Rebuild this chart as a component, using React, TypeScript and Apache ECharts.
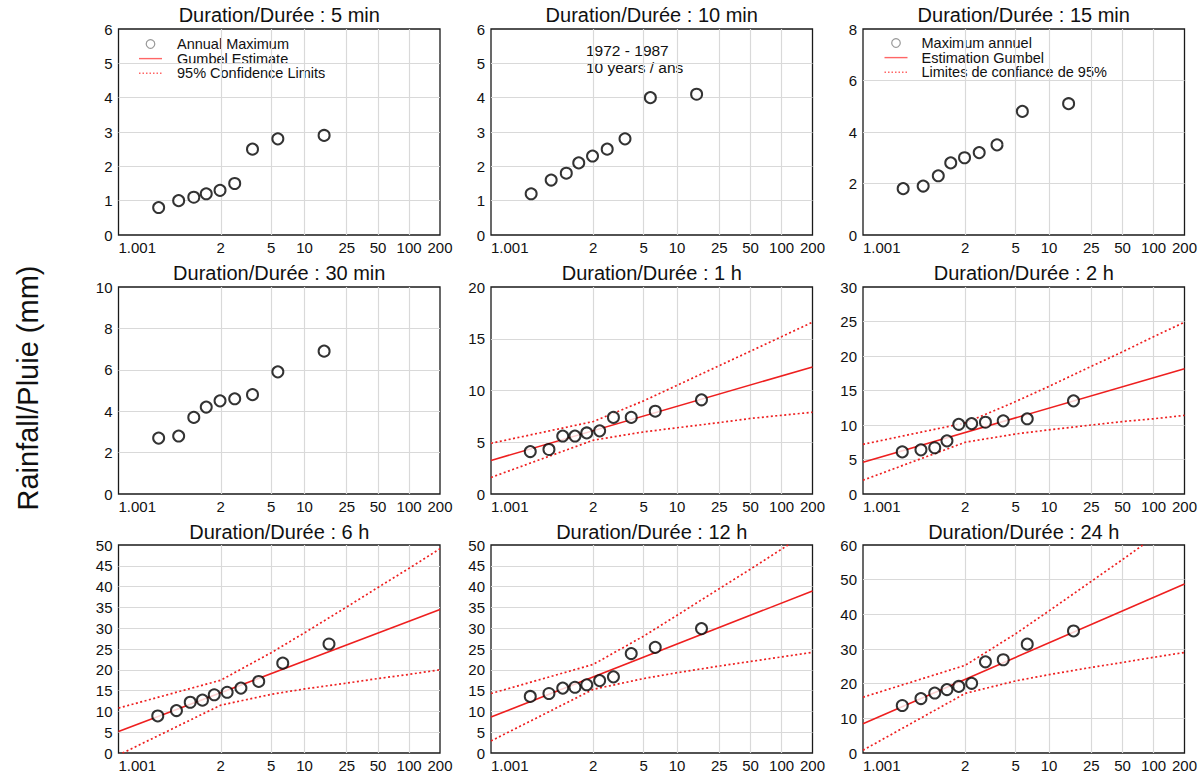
import { useEffect, useRef } from "react";
import * as echarts from "echarts";

const FONT = "'Liberation Sans', Arial, Helvetica, sans-serif";
const RED = "#ee1f1f";
const INK = "#111111";
const GRID_LINE = "#d9d9d9";

// x axis: return periods (years) shown on a Gumbel probability scale
const returnPeriods = [1.001, 2, 5, 10, 25, 50, 100, 200];
const returnPeriodLabels = ["1.001", "2", "5", "10", "25", "50", "100", "200"];

// plotting positions (Gumbel reduced variate)
const pos9 = [-1.03, -0.58, -0.24, 0.04, 0.35, 0.68, 1.08, 1.65, 2.69];
const pos10 = [-1.05, -0.63, -0.32, -0.045, 0.22, 0.51, 0.82, 1.22, 1.76, 2.80];

// annual maxima (mm)
const d5min = [0.8, 1.0, 1.1, 1.2, 1.3, 1.5, 2.5, 2.8, 2.9];
const d10min = [1.2, 1.6, 1.8, 2.1, 2.3, 2.5, 2.8, 4.0, 4.1];
const d15min = [1.8, 1.9, 2.3, 2.8, 3.0, 3.2, 3.5, 4.8, 5.1];
const d30min = [2.7, 2.8, 3.7, 4.2, 4.5, 4.6, 4.8, 5.9, 6.9];
const d1h = [4.1, 4.3, 5.6, 5.6, 5.9, 6.1, 7.4, 7.4, 8.0, 9.1];
const d2h = [6.1, 6.4, 6.7, 7.7, 10.1, 10.2, 10.4, 10.6, 10.9, 13.5];
const d6h = [8.9, 10.2, 12.2, 12.7, 14.0, 14.6, 15.6, 17.2, 21.6, 26.2];
const d12h = [13.6, 14.3, 15.6, 15.8, 16.4, 17.4, 18.3, 23.9, 25.4, 29.9];
const d24h = [13.7, 15.7, 17.3, 18.3, 19.2, 20.1, 26.3, 26.9, 31.4, 35.2];

// Gumbel estimate at T = 1.001 and T = 200
const est1h = [3.24, 12.28];
const est2h = [4.59, 18.16];
const est6h = [5.15, 34.51];
const est12h = [8.64, 38.96];
const est24h = [8.46, 48.75];

// 95% confidence limits at each return period of returnPeriods
const up1h = [4.9, 7.0, 9.0, 10.5, 12.4, 13.8, 15.2, 16.6];
const lo1h = [1.6, 5.2, 6.0, 6.4, 6.9, 7.3, 7.6, 7.9];
const up2h = [7.2, 10.3, 13.4, 15.6, 18.5, 20.6, 22.8, 24.9];
const lo2h = [2.0, 7.5, 8.7, 9.3, 10.0, 10.5, 10.9, 11.4];
const up6h = [10.8, 17.5, 24.1, 28.9, 35.1, 39.8, 44.4, 49.1];
const lo6h = [-0.5, 11.5, 14.1, 15.4, 16.8, 17.9, 18.9, 20.0];
const up12h = [14.3, 21.3, 28.1, 33.1, 39.5, 44.2, 49.0, 53.8];
const lo12h = [2.9, 15.3, 17.9, 19.3, 20.9, 22.0, 23.1, 24.2];
const up24h = [16.1, 25.3, 34.4, 41.0, 49.5, 55.8, 62.2, 68.5];
const lo24h = [0.8, 17.2, 20.8, 22.6, 24.7, 26.1, 27.6, 29.0];

const titles = [
  "Duration/Durée : 5 min",
  "Duration/Durée : 10 min",
  "Duration/Durée : 15 min",
  "Duration/Durée : 30 min",
  "Duration/Durée : 1 h",
  "Duration/Durée : 2 h",
  "Duration/Durée : 6 h",
  "Duration/Durée : 12 h",
  "Duration/Durée : 24 h",
];
const yMaxes = [6, 6, 8, 10, 20, 30, 50, 50, 60];
const yIntervals = [1, 1, 2, 2, 5, 5, 5, 5, 10];

const panels = [
  { values: d5min, pos: pos9 },
  { values: d10min, pos: pos9 },
  { values: d15min, pos: pos9 },
  { values: d30min, pos: pos9 },
  { values: d1h, pos: pos10, est: est1h, up: up1h, lo: lo1h },
  { values: d2h, pos: pos10, est: est2h, up: up2h, lo: lo2h },
  { values: d6h, pos: pos10, est: est6h, up: up6h, lo: lo6h },
  { values: d12h, pos: pos10, est: est12h, up: up12h, lo: lo12h },
  { values: d24h, pos: pos10, est: est24h, up: up24h, lo: lo24h },
];

// layout (px)
const colLefts = [118.5, 491, 863];
const rowTops = [29, 287, 545];
const rowHeights = [206, 207, 208];
const PW = 321.5;
const titleYs = [15, 273, 532];

const gumbel = (T: number) => -Math.log(-Math.log(1 - 1 / T));

export default function App() {
  const ref = useRef<HTMLDivElement>(null);

  useEffect(() => {
    if (!ref.current) return;
    const chart = echarts.init(ref.current, null, { renderer: "svg" });

    const tickPos = returnPeriods.map(gumbel);
    const xMin = tickPos[0];
    const xMax = tickPos[tickPos.length - 1];
    const innerTicks = tickPos.slice(1, -1);
    const labelOf = (v: number) => {
      const i = tickPos.findIndex((p) => Math.abs(p - v) < 1e-6);
      return i >= 0 ? returnPeriodLabels[i] : "";
    };

    const grids: any[] = [];
    const xAxes: any[] = [];
    const yAxes: any[] = [];
    const series: any[] = [];
    const graphics: any[] = [];

    panels.forEach((p, i) => {
      const r = Math.floor(i / 3);
      const c = i % 3;
      grids.push({
        left: colLefts[c],
        top: rowTops[r],
        width: PW,
        height: rowHeights[r],
        show: true,
        borderColor: "#1a1a1a",
        borderWidth: 1.3,
        backgroundColor: "#ffffff",
        containLabel: false,
      });
      xAxes.push({
        type: "value",
        gridIndex: i,
        min: xMin,
        max: xMax,
        axisLine: { show: false },
        axisTick: { show: false, customValues: innerTicks },
        splitLine: { show: true, lineStyle: { color: GRID_LINE, width: 1.2 } },
        axisLabel: {
          customValues: tickPos,
          formatter: (v: number) => labelOf(v),
          alignMinLabel: "left",
          fontSize: 15,
          color: INK,
          margin: 5,
          fontFamily: FONT,
        },
      });
      yAxes.push({
        type: "value",
        gridIndex: i,
        min: 0,
        max: yMaxes[i],
        interval: yIntervals[i],
        axisLine: { show: false },
        axisTick: { show: false },
        splitLine: {
          show: true,
          showMinLine: false,
          showMaxLine: false,
          lineStyle: { color: GRID_LINE, width: 1.2 },
        },
        axisLabel: { fontSize: 15, color: INK, margin: 6, fontFamily: FONT },
      });

      if (p.est) {
        series.push({
          type: "line",
          xAxisIndex: i,
          yAxisIndex: i,
          data: [
            [xMin, p.est[0]],
            [xMax, p.est[1]],
          ],
          symbol: "none",
          lineStyle: { color: RED, width: 1.6 },
          z: 3,
        });
        [p.up, p.lo].forEach((arr) => {
          series.push({
            type: "line",
            xAxisIndex: i,
            yAxisIndex: i,
            data: returnPeriods.map((T, k) => [gumbel(T), arr![k]]),
            symbol: "none",
            lineStyle: { color: RED, width: 1.7, type: [2, 2.5] },
            z: 3,
          });
        });
      }
      series.push({
        type: "scatter",
        xAxisIndex: i,
        yAxisIndex: i,
        data: p.pos.map((x, k) => [x, p.values[k]]),
        symbol: "emptyCircle",
        symbolSize: 11,
        itemStyle: { color: "#000000", borderWidth: 1.8 },
        z: 5,
      });

      graphics.push({
        type: "text",
        x: colLefts[c] + PW / 2,
        y: titleYs[r],
        style: {
          text: titles[i],
          fontSize: 20,
          fontFamily: FONT,
          fill: INK,
          align: "center",
          verticalAlign: "middle",
        },
      });
    });

    // y axis title
    graphics.push({
      type: "text",
      x: 28,
      y: 388,
      rotation: Math.PI / 2,
      style: {
        text: "Rainfall/Pluie (mm)",
        fontSize: 29,
        fontFamily: FONT,
        fill: INK,
        align: "center",
        verticalAlign: "middle",
      },
    });

    const LEG_FS = 14.5;
    const LEG_STEP = 14.6;
    const legend = (cx: number, textX: number, y0: number, labels: string[]) => {
      const txt = (t: string, y: number) => ({
        type: "text",
        x: textX,
        y,
        style: { text: t, fontSize: LEG_FS, fontFamily: FONT, fill: INK, align: "left", verticalAlign: "middle" },
      });
      return [
        { type: "circle", shape: { cx, cy: y0, r: 4.3 }, style: { fill: "none", stroke: "#999", lineWidth: 1.2 } },
        txt(labels[0], y0),
        { type: "line", shape: { x1: cx - 11.5, y1: y0 + LEG_STEP, x2: cx + 11.5, y2: y0 + LEG_STEP }, style: { stroke: "#f66", lineWidth: 1.4 } },
        txt(labels[1], y0 + LEG_STEP),
        { type: "line", shape: { x1: cx - 11.5, y1: y0 + 2 * LEG_STEP, x2: cx + 11.5, y2: y0 + 2 * LEG_STEP }, style: { stroke: "#f66", lineWidth: 1.4, lineDash: [1.5, 2] } },
        txt(labels[2], y0 + 2 * LEG_STEP),
      ];
    };
    graphics.push(...legend(150.5, 177, 44, ["Annual Maximum", "Gumbel Estimate", "95% Confidence Limits"]));
    graphics.push(...legend(896, 921.5, 43, ["Maximum annuel", "Estimation Gumbel", "Limites de confiance de 95%"]));

    graphics.push(
      {
        type: "text",
        x: 586,
        y: 50,
        style: { text: "1972 - 1987", fontSize: 15.5, fontFamily: FONT, fill: INK, align: "left", verticalAlign: "middle" },
      },
      {
        type: "text",
        x: 586,
        y: 67,
        style: { text: "10 years / ans", fontSize: 15.5, fontFamily: FONT, fill: INK, align: "left", verticalAlign: "middle" },
      }
    );

    chart.setOption({
      animation: false,
      backgroundColor: "#ffffff",
      textStyle: { fontFamily: FONT },
      grid: grids,
      xAxis: xAxes,
      yAxis: yAxes,
      series,
      graphic: graphics,
    });

    return () => chart.dispose();
  }, []);

  return (
    <div
      ref={ref}
      style={{ position: "absolute", left: 0, top: 0, width: 1204, height: 775, background: "#fff" }}
    />
  );
}
